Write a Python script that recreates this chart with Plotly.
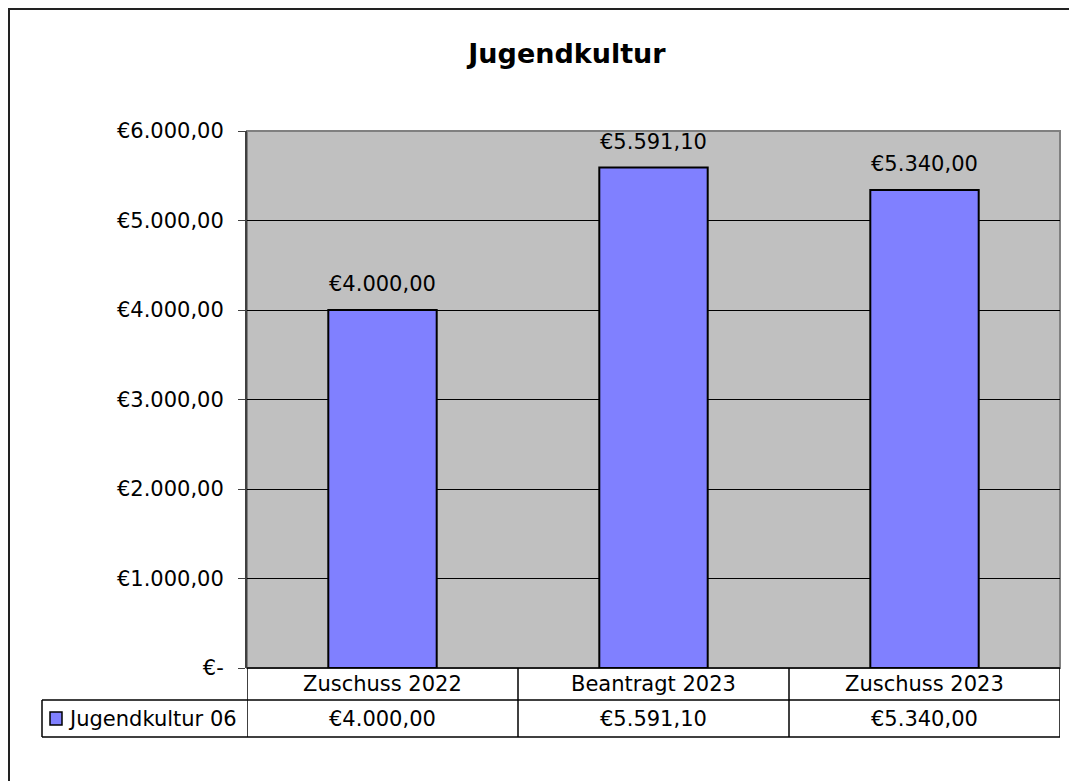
import plotly.graph_objects as go

# data
categories = ["Zuschuss 2022", "Beantragt 2023", "Zuschuss 2023"]
values = [4000.00, 5591.10, 5340.00]
series_name = "Jugendkultur 06"
y_ticks = [0, 1000, 2000, 3000, 4000, 5000, 6000]


def eur(v):
    # German style currency, Excel shows 0 as "€-"
    if v == 0:
        return "€-"
    s = f"{v:,.2f}".replace(",", "X").replace(".", ",").replace("X", ".")
    return "€" + s


W, H = 1077, 781
OFF = 8  # page body margin, screen coords below are measured on the page
L, R, T, B = 247 - OFF, W - (1060 - OFF), 131 - OFF, H - (668 - OFF)
pw, ph = W - L - R, H - T - B


def px(x):
    return (x - OFF - L) / pw


def py(y):
    return (H - B - (y - OFF)) / ph


FONT = "DejaVu Sans"
bar_color = "#8080FF"

fig = go.Figure()
fig.add_trace(go.Bar(
    x=categories,
    y=values,
    marker=dict(color=bar_color, line=dict(color="black", width=2)),
    name=series_name,
    showlegend=False,
    hoverinfo="skip",
))

# data labels
for c, v in zip(categories, values):
    fig.add_annotation(x=c, y=v, text=eur(v), showarrow=False, yanchor="middle",
                       yshift=26, font=dict(family=FONT, size=21, color="black"))

# data table under the chart
n = len(categories)
row1 = py(700)
row2 = py(737)
left_key = px(42)
line = dict(color="black", width=1.5)
fig.add_shape(type="line", xref="paper", yref="paper", x0=0, x1=1, y0=0, y1=0, line=line)
fig.add_shape(type="line", xref="paper", yref="paper", x0=left_key, x1=1, y0=row1, y1=row1, line=line)
fig.add_shape(type="line", xref="paper", yref="paper", x0=left_key, x1=1, y0=row2, y1=row2, line=line)
fig.add_shape(type="line", xref="paper", yref="paper", x0=left_key, x1=left_key, y0=row1, y1=row2, line=line)
for i in range(n + 1):
    fig.add_shape(type="line", xref="x", yref="paper", x0=i - 0.5, x1=i - 0.5,
                  y0=0, y1=row2, line=line)
for c, v in zip(categories, values):
    fig.add_annotation(x=c, y=(0 + row1) / 2, yref="paper", text=c, showarrow=False,
                       yanchor="middle", font=dict(family=FONT, size=21, color="black"))
    fig.add_annotation(x=c, y=(row1 + row2) / 2, yref="paper", text=eur(v), showarrow=False,
                       yanchor="middle", font=dict(family=FONT, size=21, color="black"))

# legend key in table
fig.add_shape(type="rect", xref="paper", yref="paper", x0=px(50), x1=px(62), y0=py(725), y1=py(712),
              fillcolor=bar_color, line=dict(color="black", width=1.5))
fig.add_annotation(x=px(66), y=(row1 + row2) / 2, xref="paper", yref="paper", text=series_name,
                   showarrow=False, xanchor="left", yanchor="middle",
                   font=dict(family=FONT, size=21, color="black"))

# plot area border
fig.add_shape(type="rect", xref="paper", yref="paper", x0=0, x1=1, y0=0, y1=1,
              line=dict(color="#808080", width=2), layer="below")
# outer chart border (as close to the page corner as the canvas allows)
fig.add_shape(type="rect", xref="paper", yref="paper", x0=px(OFF + 1), x1=px(1095), y0=py(800),
              y1=py(OFF + 1), line=dict(color="#222222", width=2))

fig.update_layout(
    width=W, height=H,
    margin=dict(l=L, r=R, t=T, b=B),
    paper_bgcolor="white",
    plot_bgcolor="#C0C0C0",
    bargap=0.6,
    title=dict(text="<b>Jugendkultur</b>", x=(567 - OFF) / W, xanchor="center", y=1 - (54 - OFF) / H,
               yanchor="middle", font=dict(family=FONT, size=27, color="black")),
    font=dict(family=FONT, size=21, color="black"),
)
fig.update_xaxes(showticklabels=False, ticks="", showgrid=False, range=[-0.5, n - 0.5])
fig.update_yaxes(
    range=[0, 6000],
    tickvals=y_ticks,
    ticktext=[eur(v) for v in y_ticks],
    ticks="outside", ticklen=7, tickcolor="#404040",
    ticklabelstandoff=10,
    showgrid=True, gridcolor="black", gridwidth=1,
    showline=True, linecolor="#404040", linewidth=2,
    zeroline=False,
    tickfont=dict(family=FONT, size=21, color="black"),
)

fig.write_html("out.html")
